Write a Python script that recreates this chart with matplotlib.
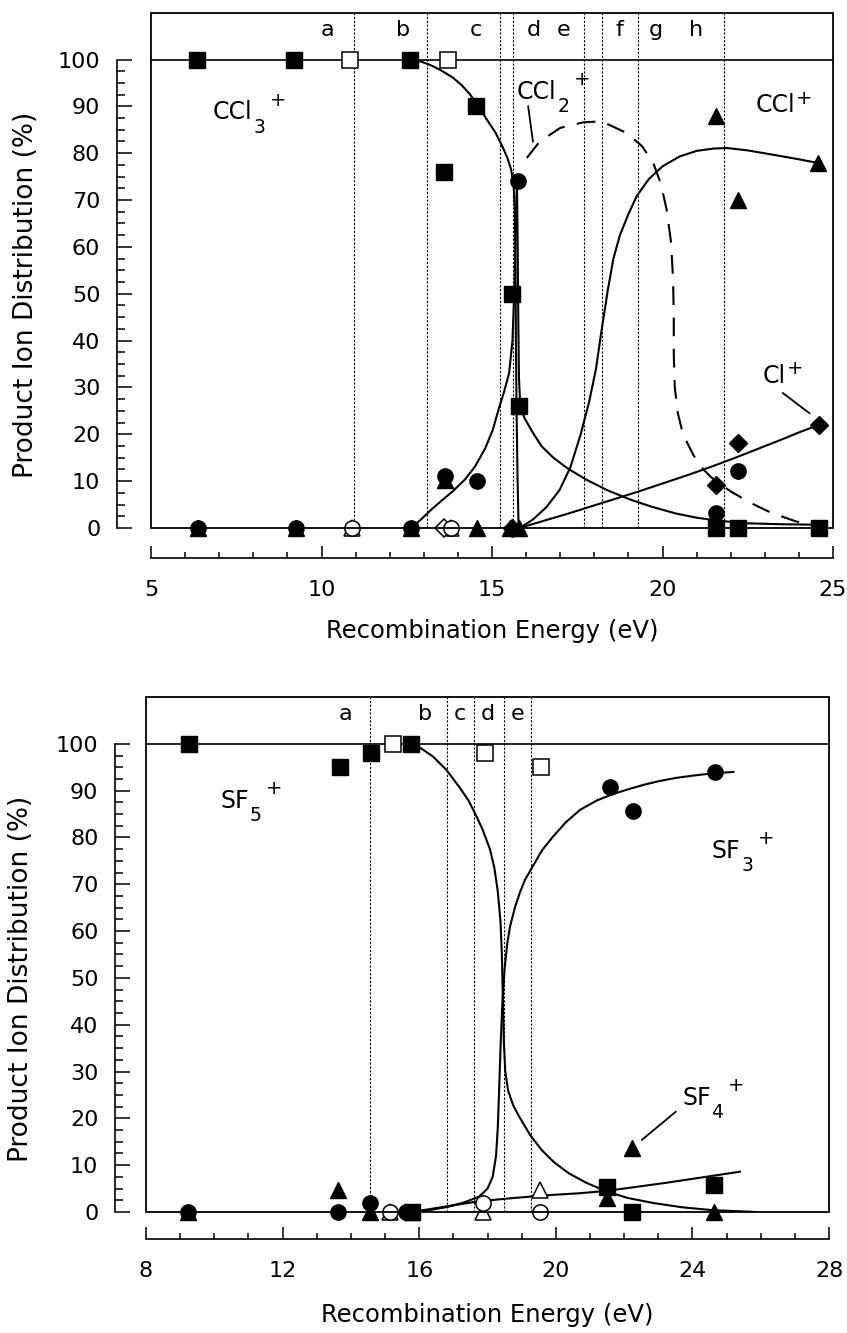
import numpy as np
import matplotlib
matplotlib.use("Agg")
import matplotlib.pyplot as plt
from matplotlib.patches import Rectangle
from matplotlib.transforms import offset_copy

plt.rcParams['font.family'] = ['DejaVu Sans']

# ---------------- top panel: CCl4 ----------------
ccl_bounds = [10.94, 13.08, 15.22, 15.61, 17.70, 18.23, 19.28, 21.81]
ccl_letters = ['a', 'b', 'c', 'd', 'e', 'f', 'g', 'h']
ccl_letter_x = [10.18, 12.39, 14.52, 16.23, 17.11, 18.75, 19.80, 20.98]

ccl3_x = [6.35, 9.19, 12.6, 14.53, 13.6, 15.58, 15.78, 21.57, 22.2, 24.58]
ccl3_y = [100, 100, 100, 90, 76, 50, 26, 0, 0, 0]
ccl3_open_x = [10.83, 13.71]
ccl3_open_y = [100, 100]

ccl2_x = [6.38, 9.25, 12.62, 13.62, 14.56, 15.75, 21.57, 22.2]
ccl2_y = [0, 0, 0, 11, 10, 74, 3.2, 12.2]
ccl2_open_x = [10.9, 13.8]
ccl2_open_y = [0, 0]

ccl_x = [6.38, 9.25, 12.62, 13.62, 14.56, 15.54, 15.8, 21.57, 22.2, 24.57]
ccl_y = [0, 0, 0, 10.3, 0, 0, 0, 88, 70, 78]
ccl_open_x = [10.9, 13.8]
ccl_open_y = [0, 0]

cl_x = [15.6, 21.57, 22.2, 24.58]
cl_y = [0, 9.2, 18.2, 22]
cl_open_x = [13.58]
cl_open_y = [0]

# fitted curves
ccl3_fit_x = [12.6, 12.9, 13.2, 13.5, 13.84, 14.1, 14.35, 14.62, 14.9, 15.1, 15.3, 15.45,
              15.56, 15.63, 15.67, 15.69, 15.7, 15.72, 15.75, 15.78]
ccl3_fit_y = [100, 99.6, 98.8, 97.7, 96.2, 94.6, 92.6, 89.8, 86.6, 84.4, 81.5, 79,
              76.5, 73.5, 68, 55, 40, 25, 10, 0]
ccl2_rise_x = [12.62, 12.9, 13.2, 13.5, 13.84, 14.2, 14.5, 14.8, 15.02, 15.2, 15.35, 15.5,
               15.6, 15.66, 15.7, 15.73]
ccl2_rise_y = [0, 1.7, 3.8, 5.7, 7.8, 10.3, 13.1, 17, 20.9, 25.5, 29, 33,
               40, 52, 64, 74]
ccl2_fall_x = [15.73, 15.75, 15.77, 15.79, 15.83, 15.95, 16.2, 16.46, 16.8, 17.2, 17.77, 18.4,
               19.08, 19.7, 20.39, 21.0, 21.7, 22.5, 23.5, 24.58]
ccl2_fall_y = [74, 62, 45, 32, 26, 23.5, 20.3, 17.4, 15, 12.8, 10.3, 8.0,
               6.0, 4.5, 3.1, 2.2, 1.5, 1.0, 0.8, 0.7]
ccl2_dash_x = [16.02, 16.4, 17.0, 17.68, 18.22, 18.95, 19.4, 19.73, 19.95, 20.12, 20.25, 20.31,
               20.33, 20.33, 20.36, 20.45, 20.6, 20.91, 21.2, 21.43, 22.0, 22.6, 23.2, 23.92, 24.5]
ccl2_dash_y = [79, 82.5, 85.4, 86.6, 86.8, 84.3, 81.5, 77.9, 73.5, 68, 61, 53,
               45, 37, 30, 24.5, 20, 15.5, 12.5, 10.8, 7.8, 5.3, 3.2, 1.4, 0.5]
ccl_fit_x = [15.8, 16.2, 16.6, 16.98, 17.3, 17.6, 17.85, 18.05, 18.2, 18.4, 18.56, 18.75,
             19.0, 19.24, 19.6, 20.0, 20.5, 21.0, 21.5, 21.9, 22.5, 23.3, 24.0, 24.57]
ccl_fit_y = [0, 1.8, 4.5, 8.1, 13, 20, 27, 34, 41.6, 51, 57.5, 62.5,
             67, 70.8, 74.5, 77.2, 79.3, 80.5, 81.0, 81.1, 80.6, 79.6, 78.7, 77.9]
cl_fit_x = [15.8, 16.5, 17.2, 17.9, 18.6, 19.3, 20.0, 20.7, 21.4, 22.1, 22.8, 23.5, 24.0, 24.58]
cl_fit_y = [0, 1.5, 3.0, 4.6, 6.2, 7.8, 9.5, 11.2, 13.0, 14.9, 16.9, 18.9, 20.4, 22]

# ---------------- bottom panel: SF6 ----------------
sf_bounds = [14.56, 16.82, 17.6, 18.48, 19.26]
sf_letters = ['a', 'b', 'c', 'd', 'e']
sf_letter_x = [13.83, 16.17, 17.19, 18.01, 18.89]

sf5_x = [9.26, 13.68, 14.6, 15.75, 15.8, 21.5, 22.22, 24.62]
sf5_y = [100, 95, 98, 100, 0, 5.4, 0, 5.8]
sf5_open_x = [15.23, 17.93, 19.57]
sf5_open_y = [100, 98, 95]

sf3_x = [9.24, 13.62, 14.56, 15.6, 21.59, 22.26, 24.65]
sf3_y = [0, 0, 2, 0, 90.8, 85.7, 94]
sf3_open_x = [15.14, 17.87, 19.53]
sf3_open_y = [0, 2, 0]

sf4_x = [9.24, 13.62, 14.56, 15.8, 21.5, 22.24, 24.62]
sf4_y = [0, 4.7, 0, 0, 2.9, 13.6, 0]
sf4_open_x = [15.14, 17.87, 19.53]
sf4_open_y = [0, 0, 4.7]

sf5_fit_x = [15.75, 16.0, 16.4, 16.8, 17.2, 17.45, 17.63, 17.85, 18.07, 18.2, 18.3, 18.38,
             18.42, 18.45, 18.48, 18.52, 18.6, 18.75, 18.94, 19.25, 19.59, 19.95, 20.37, 20.9,
             21.48, 22.1, 22.86, 23.7, 24.56, 25.86]
sf5_fit_y = [100, 99.3, 97.3, 94.4, 90.5, 87.8, 85.2, 81.8, 77.5, 73.5, 68.5, 62,
             55, 45, 36, 30, 26, 22.8, 20.2, 16.4, 13.2, 10.6, 8.3, 6.2,
             4.4, 3.0, 1.9, 1.0, 0.4, 0]
sf3_fit_x = [15.8, 16.3, 16.84, 17.3, 17.76, 18.0, 18.15, 18.25, 18.3, 18.34, 18.38, 18.43,
             18.5, 18.58, 18.66, 18.8, 18.95, 19.1, 19.29, 19.6, 19.92, 20.3, 20.71, 21.2,
             21.68, 22.17, 22.6, 23.0, 23.5, 24.0, 24.6, 25.2]
sf3_fit_y = [0, 0.4, 1.1, 2.0, 3.3, 5, 7.5, 12, 18, 26, 35, 44,
             52, 57.5, 61, 65, 68.3, 71, 73.4, 77.3, 80.2, 83.3, 85.9, 87.9,
             89.3, 90.4, 91.3, 92, 92.7, 93.2, 93.7, 94]
sf4_fit_x = [15.8, 16.8, 17.76, 18.8, 19.8, 20.7, 21.48, 22.3, 23.2, 24.3, 25.39]
sf4_fit_y = [0, 1.2, 2.3, 3.0, 3.6, 4.0, 4.5, 5.3, 6.2, 7.4, 8.6]

FS = 16
MS = 11

fig = plt.figure(figsize=(8.47, 13.33), dpi=100)
ax1 = fig.add_axes([0.1783, 0.6039, 0.8052, 0.3866])
ax2 = fig.add_axes([0.1724, 0.0908, 0.8064, 0.3863])
renderer = fig.canvas.get_renderer()


def frame(ax, xlim, xmajor, left_off, bottom_off):
    ax.set_xlim(*xlim)
    ax.set_ylim(0, 110)
    ax.spines['top'].set_visible(False)
    ax.spines['right'].set_visible(False)
    ax.spines['left'].set_position(('outward', left_off))
    ax.spines['left'].set_bounds(0, 100)
    ax.spines['bottom'].set_position(('outward', bottom_off))
    ax.spines['bottom'].set_bounds(*xlim)
    for s in ['left', 'bottom']:
        ax.spines[s].set_linewidth(1.2)
    ax.add_patch(Rectangle((0, 0), 1, 1, transform=ax.transAxes, fill=False,
                           lw=1.3, clip_on=False, zorder=5))
    ax.set_yticks(np.arange(0, 101, 10))
    ax.set_yticks(np.arange(0, 101, 2.5), minor=True)
    ax.set_xticks(np.arange(xlim[0], xlim[1] + 0.1, xmajor))
    ax.set_xticks(np.arange(xlim[0], xlim[1] + 0.1, 1), minor=True)
    ax.tick_params(axis='y', which='major', direction='in', length=11, width=1.1, pad=12, labelsize=FS)
    ax.tick_params(axis='y', which='minor', direction='in', length=5.5, width=1.1)
    ax.tick_params(axis='x', which='major', direction='in', length=9, width=1.1, pad=16, labelsize=FS)
    ax.tick_params(axis='x', which='minor', direction='in', length=4.5, width=1.1)
    ax.axhline(100, color='black', lw=1.2)
    ax.set_xlabel('Recombination Energy (eV)', fontsize=17.5)
    ax.set_ylabel('Product Ion Distribution (%)', fontsize=19, va='center')
    ax.xaxis.set_label_coords(0.5, -0.176)
    ax.yaxis.set_label_coords(-0.183, 0.452)


def pts(ax, x, y, marker, filled=True, ms=MS):
    if filled:
        ax.plot(x, y, ls='none', marker=marker, ms=ms, mfc='black', mec='black', clip_on=False, zorder=4)
    else:
        ax.plot(x, y, ls='none', marker=marker, ms=ms, mfc='white', mec='black', mew=1.1, clip_on=False, zorder=4)


def regions(ax, bounds, letters, letter_x):
    for b in bounds:
        ax.axvline(b, ymin=0, ymax=1, color='black', ls=(0, (2, 1.5)), lw=0.8)
    for lx, lt in zip(letter_x, letters):
        ax.text(lx, 106.3, lt, ha='center', va='center', fontsize=FS)


def species(ax, x, y, base, sub=None):
    # ion label with a large subscript and a raised "+"
    t = ax.text(x, y, base, fontsize=17, va='baseline')
    dx = t.get_window_extent(renderer).width * 72 / fig.dpi + 0.5
    up = 6
    if sub:
        ax.text(x, y, sub, fontsize=13.5, va='baseline',
                transform=offset_copy(ax.transData, fig=fig, x=dx, y=-9.4, units='points'))
        dx += 12
        up = 10
    ax.text(x, y, '+', fontsize=14, va='baseline',
            transform=offset_copy(ax.transData, fig=fig, x=dx, y=up, units='points'))


# ---- top panel ----
frame(ax1, (5, 25), 5, 24.5, 21.6)
regions(ax1, ccl_bounds, ccl_letters, ccl_letter_x)
ax1.plot(ccl3_fit_x, ccl3_fit_y, color='black', lw=1.5)
ax1.plot(ccl2_rise_x, ccl2_rise_y, color='black', lw=1.5)
ax1.plot(ccl2_fall_x, ccl2_fall_y, color='black', lw=1.5)
ax1.plot(ccl2_dash_x, ccl2_dash_y, color='black', lw=1.5, ls=(0, (9, 6)))
ax1.plot(ccl_fit_x, ccl_fit_y, color='black', lw=1.5)
ax1.plot(cl_fit_x, cl_fit_y, color='black', lw=1.5)

pts(ax1, ccl_x, ccl_y, '^', ms=MS + 0.5)
pts(ax1, ccl_open_x, ccl_open_y, '^', filled=False)
pts(ax1, cl_open_x, cl_open_y, 'D', filled=False, ms=9)
pts(ax1, cl_x, cl_y, 'D', ms=9)
pts(ax1, ccl2_x, ccl2_y, 'o')
pts(ax1, ccl2_open_x, ccl2_open_y, 'o', filled=False)
pts(ax1, ccl3_x, ccl3_y, 's')
pts(ax1, ccl3_open_x, ccl3_open_y, 's', filled=False)

species(ax1, 6.82, 87.2, 'CCl', '3')
species(ax1, 15.73, 91.5, 'CCl', '2')
species(ax1, 22.74, 88.7, 'CCl')
species(ax1, 22.95, 31.0, 'Cl')
ax1.plot([16.06, 16.2], [90, 82.5], color='black', lw=1.3)
ax1.plot([23.53, 24.31], [28.8, 24.5], color='black', lw=1.3)

# ---- bottom panel ----
frame(ax2, (8, 28), 4, 22.3, 19.4)
regions(ax2, sf_bounds, sf_letters, sf_letter_x)
ax2.plot(sf5_fit_x, sf5_fit_y, color='black', lw=1.5)
ax2.plot(sf3_fit_x, sf3_fit_y, color='black', lw=1.5)
ax2.plot(sf4_fit_x, sf4_fit_y, color='black', lw=1.5)

pts(ax2, sf4_x, sf4_y, '^', ms=MS + 0.5)
pts(ax2, sf4_open_x, sf4_open_y, '^', filled=False)
pts(ax2, sf3_x, sf3_y, 'o')
pts(ax2, sf3_open_x, sf3_open_y, 'o', filled=False)
pts(ax2, sf5_x, sf5_y, 's')
pts(ax2, sf5_open_x, sf5_open_y, 's', filled=False)

species(ax2, 10.17, 86.3, 'SF', '5')
species(ax2, 24.57, 75.6, 'SF', '3')
species(ax2, 23.7, 22.9, 'SF', '4')
ax2.plot([23.51, 22.52], [21.4, 15.4], color='black', lw=1.3)

fig.savefig('out.png', dpi=100)
